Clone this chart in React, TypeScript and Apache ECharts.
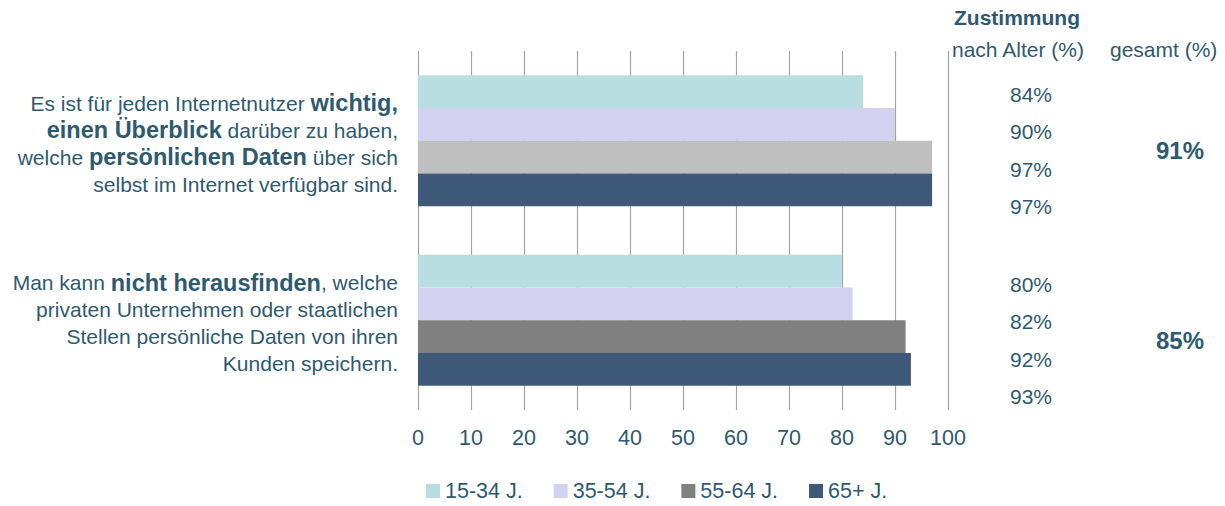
import React, { useEffect, useRef } from "react";
import * as echarts from "echarts";

// Statements (rich-text markup: r = regular, b = bold)
const statements = [
  "{r|Es ist für jeden Internetnutzer }{b|wichtig,}\n{b|einen Überblick}{r| darüber zu haben,}\n{r|welche }{b|persönlichen Daten}{r| über sich}\n{r|selbst im Internet verfügbar sind.}",
  "{r|Man kann }{b|nicht herausfinden}{r|, welche}\n{r|privaten Unternehmen oder staatlichen}\n{r|Stellen persönliche Daten von ihren}\n{r|Kunden speichern.}",
];

const ageGroups = ["15-34 J.", "35-54 J.", "55-64 J.", "65+ J."];

// Agreement per age group (%), one array per age group, one value per statement
const age15to34 = [84, 80];
const age35to54 = [90, 82];
const age55to64 = [97, 92];
const age65plus = [97, 93];

// Overall agreement per statement (%)
const totals = [91, 85];

const xTicks = [0, 10, 20, 30, 40, 50, 60, 70, 80, 90, 100];

const TEXT = "#2E5A70";
const FONT = "'Liberation Sans', Arial, sans-serif";

export default function App() {
  const ref = useRef<HTMLDivElement>(null);

  useEffect(() => {
    if (!ref.current) return;
    const chart = echarts.init(ref.current, undefined, { renderer: "svg" });

    const seriesValues = [age15to34, age35to54, age55to64, age65plus];
    const colors = ["#B9DEE1", "#D2D2F0", "#808080", "#3E5A78"];

    const series = seriesValues.map((vals, si) => ({
      name: ageGroups[si],
      type: "bar",
      barGap: "0%",
      barCategoryGap: "27%",
      itemStyle: { color: colors[si] },
      data: vals.map((v, ci) =>
        si === 2 && ci === 0 ? { value: v, itemStyle: { color: "#BFBFBF" } } : v
      ),
    }));

    // Right-hand value column
    const rowStart = [94, 284];
    const rowStep = 37.5;
    const graphics: any[] = [
      {
        type: "text",
        left: 954,
        top: 7,
        style: { text: "Zustimmung", font: `bold 21px ${FONT}`, fill: TEXT },
      },
      {
        type: "text",
        left: 952,
        top: 39,
        style: { text: "nach Alter (%)", font: `21px ${FONT}`, fill: TEXT },
      },
      {
        type: "text",
        left: 1110,
        top: 39,
        style: { text: "gesamt (%)", font: `21px ${FONT}`, fill: TEXT },
      },
    ];
    statements.forEach((_, ci) => {
      seriesValues.forEach((vals, si) => {
        graphics.push({
          type: "text",
          x: 1031,
          y: rowStart[ci] + si * rowStep,
          style: {
            text: `${vals[ci]}%`,
            font: `21px ${FONT}`,
            fill: TEXT,
            align: "center",
            verticalAlign: "middle",
          },
        });
      });
      graphics.push({
        type: "text",
        x: 1180,
        y: rowStart[ci] + 1.5 * rowStep,
        style: {
          text: `${totals[ci]}%`,
          font: `bold 24px ${FONT}`,
          fill: TEXT,
          align: "center",
          verticalAlign: "middle",
        },
      });
    });

    chart.setOption({
      animation: false,
      textStyle: { fontFamily: FONT },
      grid: { left: 418, right: 277, top: 51, bottom: 96, containLabel: false },
      xAxis: {
        type: "value",
        min: xTicks[0],
        max: xTicks[xTicks.length - 1],
        interval: xTicks[1] - xTicks[0],
        axisLine: { show: false },
        axisTick: { show: false },
        axisLabel: { color: TEXT, fontSize: 21.5, margin: 17, fontFamily: FONT },
        splitLine: { show: true, lineStyle: { color: "#A3A3A3", width: 1.2 } },
      },
      yAxis: {
        type: "category",
        inverse: true,
        data: statements,
        axisLine: { show: false },
        axisTick: { show: false },
        axisLabel: {
          margin: 20,
          align: "right",
          padding: [6, 0, 0, 0],
          formatter: (v: string) => v,
          rich: {
            r: { fontSize: 21, color: TEXT, fontFamily: FONT, align: "right", lineHeight: 27 },
            b: {
              fontSize: 23.5,
              fontWeight: "bold",
              color: TEXT,
              fontFamily: FONT,
              align: "right",
              lineHeight: 27,
            },
          },
        },
      },
      legend: {
        left: 421,
        top: 477,
        padding: [3, 5, 3, 5],
        itemWidth: 14,
        itemHeight: 14,
        itemGap: 31,
        icon: "rect",
        data: ageGroups,
        textStyle: { color: TEXT, fontSize: 21.5, fontFamily: FONT, lineHeight: 22 },
      },
      series,
      graphic: graphics,
    });

    return () => chart.dispose();
  }, []);

  return (
    <div
      ref={ref}
      style={{ position: "fixed", left: 0, top: 0, width: 1225, height: 506, background: "#fff" }}
    />
  );
}
